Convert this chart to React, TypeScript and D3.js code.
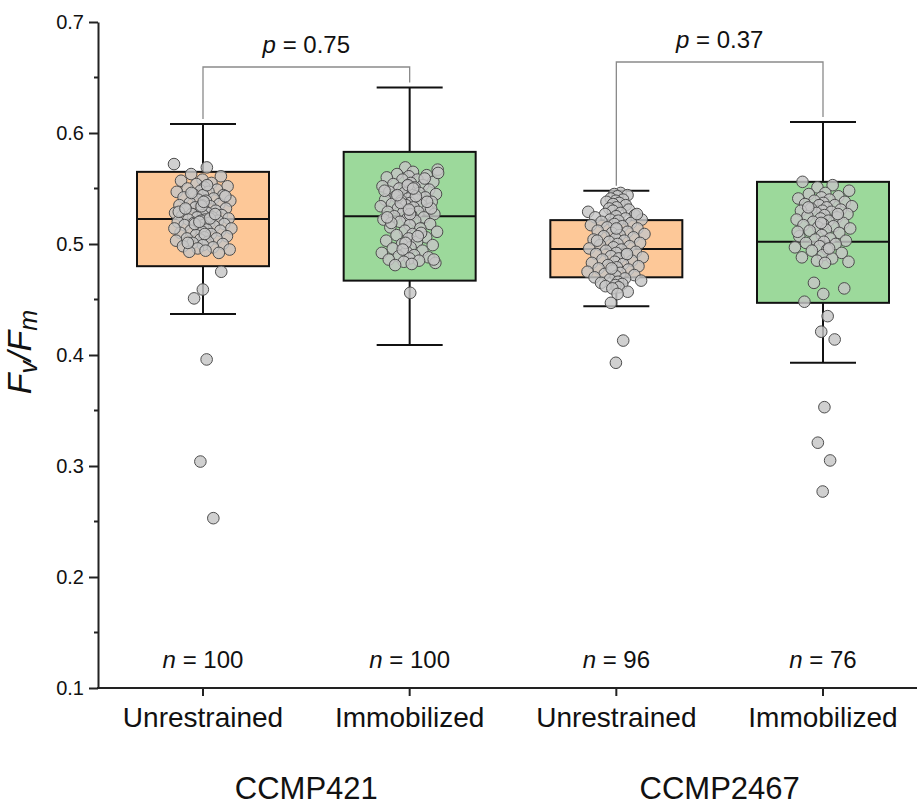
import React, { useEffect, useRef } from 'react';
import * as d3 from 'd3';

// categories and labels
const categories = ['Unrestrained', 'Immobilized', 'Unrestrained', 'Immobilized'];
const strains = ['CCMP421', 'CCMP2467'];
const sampleSizes = [100, 100, 96, 76];
const yTicks = [0.1, 0.2, 0.3, 0.4, 0.5, 0.6, 0.7];
const yMinorTicks = [0.15, 0.25, 0.35, 0.45, 0.55, 0.65];

// box statistics
const whiskerLow = [0.437, 0.409, 0.444, 0.393];
const q1 = [0.48, 0.467, 0.47, 0.447];
const median = [0.5225, 0.525, 0.4955, 0.502];
const q3 = [0.565, 0.583, 0.5215, 0.556];
const whiskerHigh = [0.608, 0.641, 0.548, 0.61];

// comparisons
const pairs = [[0, 1], [2, 3]];
const pValues = ['0.75', '0.37'];

// individual Fv/Fm measurements
const g421Free = [
  0.572, 0.569, 0.563, 0.561, 0.558, 0.557, 0.555, 0.554, 0.552, 0.551,
  0.55, 0.549, 0.548, 0.547, 0.547, 0.545, 0.544, 0.544, 0.542, 0.541,
  0.54, 0.539, 0.539, 0.537, 0.536, 0.535, 0.535, 0.534, 0.533, 0.532,
  0.531, 0.531, 0.53, 0.529, 0.528, 0.528, 0.527, 0.526, 0.526, 0.525,
  0.524, 0.524, 0.523, 0.522, 0.522, 0.521, 0.521, 0.52, 0.519, 0.519,
  0.518, 0.517, 0.517, 0.516, 0.515, 0.514, 0.513, 0.512, 0.512, 0.511,
  0.51, 0.509, 0.508, 0.507, 0.506, 0.505, 0.505, 0.504, 0.503, 0.502,
  0.501, 0.5, 0.499, 0.498, 0.497, 0.496, 0.495, 0.494, 0.493, 0.492,
  0.534, 0.529, 0.523, 0.518, 0.543, 0.538, 0.532, 0.527, 0.52, 0.514,
  0.553, 0.546, 0.475, 0.459, 0.451, 0.396, 0.304, 0.253, 0.509, 0.501,
];
const g421Imm = [
  0.569, 0.567, 0.565, 0.563, 0.562, 0.561, 0.56, 0.558, 0.558, 0.556,
  0.555, 0.554, 0.553, 0.552, 0.552, 0.551, 0.55, 0.549, 0.548, 0.547,
  0.546, 0.546, 0.545, 0.544, 0.543, 0.542, 0.541, 0.54, 0.54, 0.539,
  0.538, 0.537, 0.536, 0.535, 0.535, 0.534, 0.533, 0.532, 0.531, 0.53,
  0.529, 0.529, 0.528, 0.527, 0.526, 0.525, 0.524, 0.523, 0.522, 0.521,
  0.52, 0.518, 0.517, 0.515, 0.514, 0.512, 0.511, 0.509, 0.508, 0.506,
  0.505, 0.503, 0.502, 0.5, 0.499, 0.497, 0.496, 0.494, 0.493, 0.492,
  0.49, 0.489, 0.488, 0.487, 0.486, 0.485, 0.484, 0.483, 0.482, 0.481,
  0.559, 0.553, 0.548, 0.543, 0.537, 0.532, 0.527, 0.519, 0.51, 0.501,
  0.564, 0.55, 0.544, 0.538, 0.531, 0.524, 0.507, 0.495, 0.486, 0.456,
];
const g2467Free = [
  0.546, 0.545, 0.544, 0.543, 0.541, 0.54, 0.539, 0.538, 0.537, 0.536,
  0.535, 0.533, 0.532, 0.531, 0.53, 0.529, 0.528, 0.527, 0.526, 0.525,
  0.524, 0.523, 0.522, 0.522, 0.521, 0.52, 0.519, 0.518, 0.517, 0.516,
  0.515, 0.514, 0.513, 0.512, 0.511, 0.51, 0.509, 0.508, 0.507, 0.506,
  0.505, 0.504, 0.503, 0.502, 0.501, 0.5, 0.499, 0.498, 0.497, 0.496,
  0.495, 0.494, 0.493, 0.492, 0.491, 0.49, 0.489, 0.488, 0.487, 0.486,
  0.485, 0.484, 0.483, 0.482, 0.481, 0.48, 0.479, 0.478, 0.477, 0.476,
  0.475, 0.474, 0.473, 0.472, 0.471, 0.47, 0.469, 0.468, 0.467, 0.466,
  0.465, 0.464, 0.463, 0.462, 0.461, 0.46, 0.527, 0.514, 0.503, 0.491,
  0.478, 0.457, 0.455, 0.447, 0.413, 0.393,
];
const g2467Imm = [
  0.556, 0.553, 0.551, 0.548, 0.546, 0.545, 0.543, 0.542, 0.541, 0.54,
  0.539, 0.538, 0.537, 0.536, 0.535, 0.535, 0.534, 0.533, 0.532, 0.531,
  0.53, 0.53, 0.529, 0.528, 0.527, 0.526, 0.525, 0.524, 0.523, 0.522,
  0.521, 0.52, 0.519, 0.518, 0.517, 0.516, 0.515, 0.514, 0.513, 0.512,
  0.51, 0.508, 0.507, 0.505, 0.504, 0.503, 0.502, 0.501, 0.5, 0.498,
  0.497, 0.495, 0.494, 0.492, 0.49, 0.488, 0.487, 0.485, 0.484, 0.483,
  0.533, 0.527, 0.519, 0.511, 0.496,
  0.465, 0.46, 0.455, 0.448, 0.435, 0.421, 0.414, 0.353, 0.321, 0.305, 0.277,
];
const groups = [g421Free, g421Imm, g2467Free, g2467Imm];

const FONT = '"Liberation Sans", Arial, Helvetica, sans-serif';
const fills = ['#fdc898', '#9cd99b', '#fdc898', '#9cd99b'];

const App = () => {
  const svgRef = useRef<SVGSVGElement | null>(null);

  useEffect(() => {
    const width = 917;
    const height = 808;
    const axisX = 98;

    const svg = d3.select(svgRef.current);
    svg.selectAll('*').remove();
    svg.attr('width', width).attr('height', height).style('font-family', FONT);

    const y = d3.scaleLinear().domain([0.1, 0.7]).range([688, 22]);
    const x = d3
      .scalePoint<string>()
      .domain(categories.map((_, i) => String(i)))
      .range([203, 823]);
    const cx = (i: number) => x(String(i)) as number;
    const boxHalf = 66;
    const capHalf = 33;

    // y axis
    const yAxis = svg
      .append('g')
      .attr('transform', `translate(${axisX},0)`)
      .call(
        d3
          .axisLeft(y)
          .tickValues(yTicks)
          .tickFormat(d3.format('.1f'))
          .tickSize(9)
          .tickSizeOuter(0)
      );
    yAxis.select('.domain').attr('stroke', '#222').attr('stroke-width', 2);
    yAxis.selectAll('.tick line').attr('stroke', '#222').attr('stroke-width', 2);
    yAxis
      .selectAll('.tick text')
      .attr('font-size', 20)
      .attr('font-family', FONT)
      .attr('fill', '#111')
      .attr('x', -14);

    svg
      .append('g')
      .selectAll('line')
      .data(yMinorTicks)
      .enter()
      .append('line')
      .attr('x1', axisX - 4)
      .attr('x2', axisX)
      .attr('y1', d => y(d))
      .attr('y2', d => y(d))
      .attr('stroke', '#222')
      .attr('stroke-width', 2);

    // x axis
    svg
      .append('line')
      .attr('x1', axisX - 1)
      .attr('x2', width)
      .attr('y1', y(0.1))
      .attr('y2', y(0.1))
      .attr('stroke', '#222')
      .attr('stroke-width', 2);
    svg
      .append('g')
      .selectAll('line')
      .data(categories)
      .enter()
      .append('line')
      .attr('x1', (_, i) => cx(i))
      .attr('x2', (_, i) => cx(i))
      .attr('y1', y(0.1))
      .attr('y2', y(0.1) + 8)
      .attr('stroke', '#222')
      .attr('stroke-width', 2);

    svg
      .append('g')
      .selectAll('text')
      .data(categories)
      .enter()
      .append('text')
      .attr('x', (_, i) => cx(i))
      .attr('y', 727)
      .attr('text-anchor', 'middle')
      .attr('font-size', 28)
      .attr('fill', '#111')
      .text(d => d);

    svg
      .append('g')
      .selectAll('text')
      .data(strains)
      .enter()
      .append('text')
      .attr('x', (_, i) => (cx(i * 2) + cx(i * 2 + 1)) / 2)
      .attr('y', 799)
      .attr('text-anchor', 'middle')
      .attr('font-size', 31)
      .attr('fill', '#111')
      .text(d => d);

    // y label
    const yl = svg
      .append('text')
      .attr('transform', `translate(31,352) rotate(-90)`)
      .attr('text-anchor', 'middle')
      .attr('font-style', 'italic')
      .attr('fill', '#111')
      .attr('font-size', 34);
    yl.append('tspan').text('F');
    yl.append('tspan').attr('font-size', 25).attr('dy', 6).text('v');
    yl.append('tspan').attr('dy', -6).text('/F');
    yl.append('tspan').attr('font-size', 25).attr('dy', 6).text('m');

    // boxes
    const boxes = svg
      .append('g')
      .selectAll('g')
      .data(categories)
      .enter()
      .append('g');

    boxes
      .append('line')
      .attr('x1', (_, i) => cx(i))
      .attr('x2', (_, i) => cx(i))
      .attr('y1', (_, i) => y(whiskerHigh[i]))
      .attr('y2', (_, i) => y(whiskerLow[i]))
      .attr('stroke', '#111')
      .attr('stroke-width', 2);
    boxes
      .append('line')
      .attr('x1', (_, i) => cx(i) - capHalf)
      .attr('x2', (_, i) => cx(i) + capHalf)
      .attr('y1', (_, i) => y(whiskerHigh[i]))
      .attr('y2', (_, i) => y(whiskerHigh[i]))
      .attr('stroke', '#111')
      .attr('stroke-width', 2);
    boxes
      .append('line')
      .attr('x1', (_, i) => cx(i) - capHalf)
      .attr('x2', (_, i) => cx(i) + capHalf)
      .attr('y1', (_, i) => y(whiskerLow[i]))
      .attr('y2', (_, i) => y(whiskerLow[i]))
      .attr('stroke', '#111')
      .attr('stroke-width', 2);
    boxes
      .append('rect')
      .attr('x', (_, i) => cx(i) - boxHalf)
      .attr('width', boxHalf * 2)
      .attr('y', (_, i) => y(q3[i]))
      .attr('height', (_, i) => y(q1[i]) - y(q3[i]))
      .attr('fill', (_, i) => fills[i])
      .attr('stroke', '#111')
      .attr('stroke-width', 2);
    boxes
      .append('line')
      .attr('x1', (_, i) => cx(i) - boxHalf)
      .attr('x2', (_, i) => cx(i) + boxHalf)
      .attr('y1', (_, i) => y(median[i]))
      .attr('y2', (_, i) => y(median[i]))
      .attr('stroke', '#111')
      .attr('stroke-width', 2);

    // jittered points (deterministic spread around the box centre)
    groups.forEach((vals, gi) => {
      svg
        .append('g')
        .selectAll('circle')
        .data(vals)
        .enter()
        .append('circle')
        .attr('cx', (d, i) => {
          const inside = d >= q1[gi] - 0.005 && d <= q3[gi] + 0.01;
          const spread = inside ? 58 : 24;
          const u = ((i * 0.6180339887 + gi * 0.37) % 1) - 0.5;
          const j = Math.sign(u) * Math.pow(Math.abs(u) * 2, 1.4) / 2;
          return cx(gi) + j * spread;
        })
        .attr('cy', d => y(d))
        .attr('r', 5.8)
        .attr('fill', '#c6c6c6')
        .attr('fill-opacity', 0.82)
        .attr('stroke', '#4d4d4d')
        .attr('stroke-width', 1);
    });

    // significance brackets
    const bracketY = [67, 62];
    pairs.forEach(([a, b], k) => {
      const path = d3.path();
      path.moveTo(cx(a), y(whiskerHigh[a]) - 5);
      path.lineTo(cx(a), bracketY[k]);
      path.lineTo(cx(b), bracketY[k]);
      path.lineTo(cx(b), y(whiskerHigh[b]) - 5);
      svg
        .append('path')
        .attr('d', path.toString())
        .attr('fill', 'none')
        .attr('stroke', '#8a8a8a')
        .attr('stroke-width', 1.3);

      const t = svg
        .append('text')
        .attr('x', (cx(a) + cx(b)) / 2)
        .attr('y', bracketY[k] - 14)
        .attr('text-anchor', 'middle')
        .attr('font-size', 24)
        .attr('fill', '#111');
      t.append('tspan').attr('font-style', 'italic').text('p');
      t.append('tspan').text(` = ${pValues[k]}`);
    });

    // sample sizes
    const nt = svg
      .append('g')
      .selectAll('text')
      .data(sampleSizes)
      .enter()
      .append('text')
      .attr('x', (_, i) => cx(i))
      .attr('y', 668)
      .attr('text-anchor', 'middle')
      .attr('font-size', 24)
      .attr('fill', '#111');
    nt.append('tspan').attr('font-style', 'italic').text('n');
    nt.append('tspan').text(d => ` = ${d}`);
  }, []);

  return (
    <div style={{ position: 'absolute', left: 0, top: 0 }}>
      <svg ref={svgRef} style={{ display: 'block', background: '#fff' }} />
    </div>
  );
};

export default App;
